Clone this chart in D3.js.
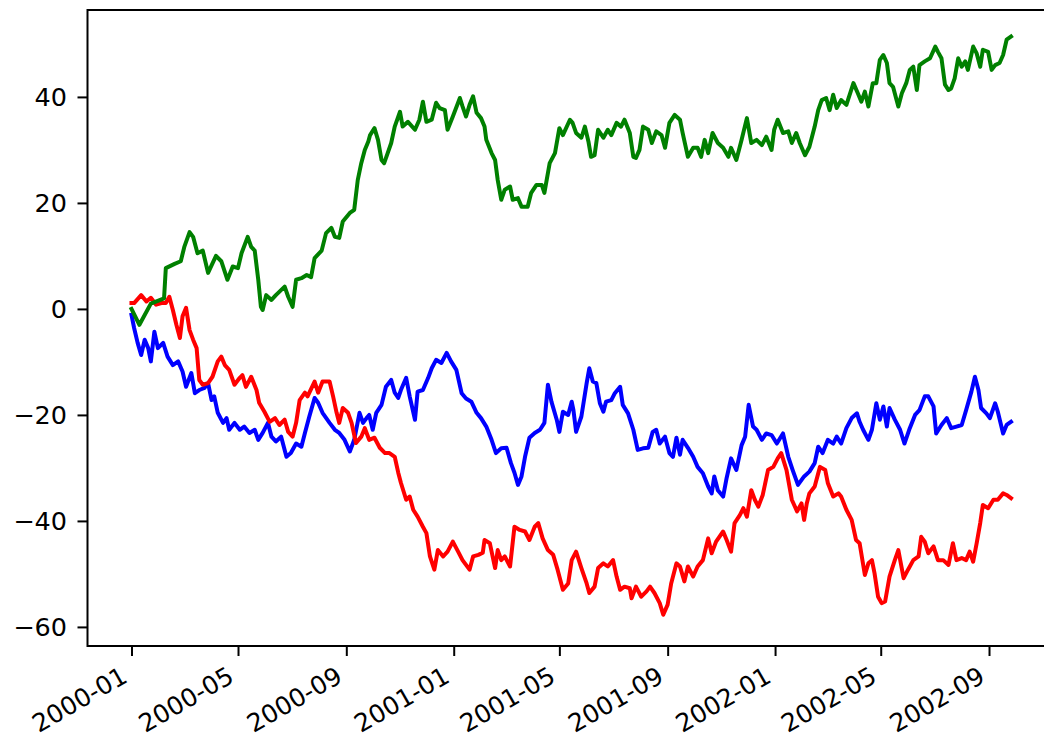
<!DOCTYPE html>
<html>
<head>
<meta charset="utf-8">
<script src="https://cdn.jsdelivr.net/npm/d3@7"></script>
<style>
  html, body { margin: 0; padding: 0; background: #fff; }
  svg { display: block; }
  text { font-family: "DejaVu Sans", sans-serif; fill: #000; }
</style>
</head>
<body>
<svg id="chart" width="1044" height="742"></svg>
<script>
// Three cumulative random-walk series, sampled as [day offset from 2000-01-01, value]
const blueSeries = [
  [0,-1.1],[3,-3.6],[7,-6.4],[11,-8.7],[15,-5.8],[19,-7.4],[22,-9.9],[26,-4.3],[30,-7.4],[36,-6.4],
  [41,-9],[47,-10.6],[53,-9.9],[58,-11.8],[62,-14.7],[68,-12.1],[72,-15.9],[77,-15.3],[83,-14.9],[87,-14],
  [91,-17.2],[94,-16.5],[98,-19.6],[104,-21.5],[108,-20.6],[111,-22.8],[117,-21.5],[123,-22.8],[128,-22.2],[134,-23.4],
  [140,-22.8],[144,-24.7],[149,-23.4],[155,-21.5],[159,-24.1],[164,-25],[170,-24.1],[176,-27.9],[181,-27.2],[187,-25.4],
  [193,-26],[197,-23.4],[202,-20.3],[208,-16.8],[212,-17.7],[217,-19.6],[225,-21.5],[231,-22.8],[236,-23.4],[242,-24.7],
  [248,-26.9],[253,-24.7],[259,-19.6],[263,-21.5],[267,-20.6],[270,-20],[274,-22.8],[278,-19.6],[284,-18.1],[289,-14.7],
  [295,-13.4],[299,-15.8],[303,-16.8],[306,-15.3],[312,-13],[316,-16.5],[322,-20.9],[325,-15.6],[331,-15.3],[337,-13],
  [341,-11.2],[346,-9.6],[352,-10.2],[358,-8.3],[363,-9.9],[369,-11.5],[375,-15.9],[380,-16.9],[386,-17.5],[392,-19.6],
  [397,-20.6],[403,-22.2],[409,-24.7],[414,-27.2],[420,-26.3],[426,-26.2],[431,-29.1],[435,-30.9],[439,-33.2],[443,-31.6],
  [447,-27.9],[452,-24.3],[458,-23.4],[464,-22.8],[469,-21.5],[473,-14.3],[477,-17.5],[483,-20.9],[486,-23.2],[490,-19.4],
  [496,-20],[500,-17.5],[502,-19.1],[505,-23.2],[511,-20.3],[517,-14],[520,-11.2],[524,-13.7],[528,-14],[532,-17.8],
  [536,-19.4],[539,-17.5],[545,-17.2],[549,-15.9],[555,-14.7],[558,-18.1],[564,-19.7],[570,-22.8],[575,-26.6],[581,-26.3],
  [587,-26.2],[592,-23.2],[596,-22.8],[600,-25.4],[606,-24.1],[611,-27.2],[615,-27.9],[619,-24.3],[623,-27.5],[626,-24.7],
  [632,-26.2],[638,-27.9],[643,-29.8],[649,-31],[655,-33.5],[659,-34.8],[662,-31.6],[666,-34.2],[672,-35.4],[676,-31.9],
  [681,-28.2],[687,-30.4],[693,-25.7],[697,-24.1],[701,-18.1],[706,-22.2],[710,-22.8],[716,-24.7],[721,-23.5],[727,-23.8],
  [733,-25.4],[740,-23.5],[746,-27.9],[751,-30.4],[757,-33.2],[764,-31.6],[770,-30.7],[776,-29.1],[780,-26],[785,-27.2],
  [791,-24.7],[797,-25.4],[801,-24.1],[806,-25.4],[812,-22.5],[818,-20.6],[824,-19.7],[827,-21.3],[831,-22.8],[837,-24.7],
  [841,-22.8],[846,-17.8],[850,-20.9],[854,-18.4],[858,-22.2],[861,-18.7],[867,-20.9],[873,-22.8],[878,-25.4],[884,-22.5],
  [890,-20],[895,-19.1],[901,-16.5],[905,-16.5],[911,-18.4],[914,-23.5],[920,-21.9],[926,-20.6],[931,-22.5],[937,-22.2],
  [943,-21.9],[948,-19.1],[954,-15.6],[958,-12.8],[962,-15.3],[965,-18.7],[971,-19.7],[975,-20.6],[981,-17.8],[984,-19.4],
  [990,-23.5],[994,-21.9],[999,-21.3]
];

const redSeries = [
  [0,1.1],[3,1.1],[11,2.6],[17,1.4],[22,2.1],[28,0.8],[34,1.1],[39,1.1],[43,2.3],[47,-0.2],
  [51,-3],[55,-5.5],[58,-1.4],[62,0.2],[66,-4],[70,-5.8],[74,-7.4],[77,-13.4],[81,-14.3],[87,-14],
  [92,-12.8],[98,-9.9],[102,-9],[106,-10.6],[111,-11.5],[117,-14.3],[123,-13],[126,-12.5],[130,-14.7],[136,-12.8],
  [142,-15.3],[145,-17.7],[151,-19.4],[157,-21.3],[163,-20.6],[168,-21.9],[174,-20.9],[178,-23.2],[183,-24.1],[187,-21.5],
  [191,-17.2],[197,-15.8],[200,-16.5],[208,-13.7],[212,-15.8],[217,-13.7],[225,-13.7],[229,-16.5],[233,-19.6],[236,-21.5],
  [240,-18.7],[246,-19.6],[250,-21.5],[255,-25.3],[261,-24.1],[265,-22.5],[270,-24.7],[276,-24.3],[282,-26.2],[288,-27.2],
  [293,-27.2],[299,-27.9],[303,-30.9],[306,-32.8],[312,-36],[316,-35.4],[320,-37.9],[325,-39.2],[331,-41.1],[335,-42.3],
  [339,-46.7],[344,-49.2],[348,-45.5],[354,-46.7],[359,-45.8],[365,-43.9],[371,-45.8],[376,-47.4],[384,-49.2],[388,-46.7],
  [394,-46.4],[399,-46],[401,-43.6],[407,-44.2],[413,-48.9],[416,-45.5],[420,-47.4],[424,-46.7],[430,-48.6],[435,-41.1],
  [441,-41.7],[447,-42],[452,-43.6],[458,-41.1],[462,-40.4],[467,-43.3],[473,-45.5],[479,-46.4],[484,-49.2],[490,-53],
  [496,-51.8],[500,-47.4],[505,-45.8],[511,-48.9],[517,-51.8],[520,-53.6],[526,-52.4],[530,-48.9],[536,-48],[541,-48.6],
  [547,-47.4],[551,-50.5],[555,-53],[560,-52.4],[566,-52.7],[568,-54.6],[573,-52.4],[579,-54.3],[585,-53.3],[589,-52.4],
  [594,-53.6],[600,-55.5],[604,-57.7],[609,-55.8],[613,-51.8],[619,-48],[623,-48.6],[628,-51.4],[632,-48.6],[638,-50.5],
  [643,-48.6],[649,-47.4],[655,-43.3],[659,-46.1],[664,-43.9],[672,-42],[676,-43.6],[681,-45.8],[685,-40.4],[691,-38.9],
  [695,-37.6],[699,-39.2],[704,-34.2],[708,-36],[712,-37.3],[717,-35.1],[723,-30.4],[729,-29.8],[734,-28.2],[738,-27.2],
  [744,-30.4],[750,-36],[756,-38.2],[761,-36.7],[764,-39.8],[767,-36.7],[770,-34.8],[776,-33.5],[782,-29.8],[788,-30.4],
  [791,-32.9],[797,-35.4],[803,-34.8],[806,-35.4],[812,-37.9],[818,-39.8],[823,-43.6],[827,-44.2],[833,-50.2],[837,-48],
  [841,-47.4],[844,-49.9],[848,-54.3],[852,-55.5],[856,-55.2],[861,-50.5],[867,-47.4],[871,-45.5],[877,-50.8],[882,-49.2],
  [888,-47.4],[894,-46.7],[897,-43],[901,-43.9],[905,-46.1],[911,-44.8],[916,-47.4],[922,-47.4],[928,-48.3],[933,-44.2],
  [937,-47.4],[943,-47],[948,-47.4],[952,-45.8],[956,-47.7],[960,-44.2],[964,-40.4],[967,-37],[973,-37.6],[979,-36],
  [984,-36],[990,-34.8],[994,-35.1],[999,-35.7]
];

const greenSeries = [
  [0,0],[9,-3],[22,1],[37,2],[39,7.7],[49,8.5],[56,9],[60,11.7],[66,14.5],[70,13.6],
  [75,10.5],[81,11],[87,6.8],[96,10],[102,9],[109,5.5],[115,8],[121,7.7],[125,10.5],[132,13.6],
  [136,11.7],[140,11],[144,5.5],[147,0.4],[149,-0.2],[153,2.6],[159,1.7],[164,2.6],[174,4.2],[178,2.3],
  [183,0.4],[187,5.5],[193,5.8],[199,6.4],[204,6],[208,9.6],[216,11],[221,14.3],[227,15.3],[231,13.6],
  [236,13.4],[240,16.5],[248,18.1],[253,18.7],[257,24.3],[261,27.5],[265,30],[269,31.6],[271,32.8],[276,34.1],
  [280,31.9],[284,28.1],[287,27.5],[291,29.4],[295,31.3],[299,34.4],[305,37.2],[308,34.4],[314,35.3],[322,33.8],
  [327,35.7],[331,39.1],[335,35.3],[341,35.7],[346,38.9],[350,37.9],[356,37.5],[359,33.8],[365,36.3],[373,39.8],
  [376,38.2],[380,36.3],[384,38.5],[388,40.1],[392,37],[397,36],[401,34.4],[403,31.9],[409,29.4],[413,28.1],
  [416,24.3],[420,20.6],[424,22.5],[430,23.1],[433,20.6],[439,20.9],[443,19.3],[450,19.3],[454,21.9],[460,23.4],
  [466,23.4],[469,21.9],[475,27.5],[481,29.4],[486,34.1],[490,32.8],[498,35.7],[501,35.1],[505,33.2],[511,32.3],
  [515,34.4],[519,31.6],[522,28.7],[526,29],[530,33.8],[536,32.3],[541,33.8],[545,32.8],[551,35.1],[556,34.4],
  [560,35.7],[566,33.2],[570,28.7],[573,28.5],[577,30],[581,34.4],[587,33.8],[591,31.3],[596,33.5],[602,32.8],
  [606,30.4],[611,35.1],[617,36.6],[623,35.7],[626,33.2],[632,28.7],[638,30.4],[643,30.4],[647,28.7],[651,31.9],
  [655,29.4],[660,33.2],[666,31.3],[672,30.4],[678,28.7],[681,30.4],[687,28.1],[693,31.9],[699,36],[704,31.3],
  [710,31.9],[716,30.9],[721,32.5],[727,30],[730,33.8],[734,35.7],[740,33.2],[746,33.5],[750,31.3],[755,33.2],
  [759,31.3],[765,29],[770,30.6],[776,34.4],[780,37.5],[784,39.4],[789,39.8],[793,37.5],[797,40.4],[801,37.9],
  [806,39.4],[812,38.5],[820,42.6],[825,40.7],[829,39.1],[833,41],[837,38.2],[842,42.6],[846,42.6],[850,47],
  [854,47.9],[858,46.4],[861,42.6],[865,41.9],[869,39.4],[871,38.2],[875,40.7],[880,42.6],[884,45.1],[888,45.7],
  [892,41.3],[895,46],[901,46.7],[907,47.3],[913,49.5],[916,48.5],[920,47.3],[924,42.3],[928,41.3],[931,41.6],
  [935,43.5],[939,47.3],[943,45.7],[947,46.7],[950,45.1],[956,49.5],[960,48.2],[964,45.7],[967,48.9],[973,48.5],
  [977,45.1],[981,46],[986,46.4],[990,47.9],[994,50.8],[999,51.4]
];

const seriesColors = ["#0000ff", "#ff0000", "#008000"];
const xTickDates = ["2000-01-01","2000-05-01","2000-09-01","2001-01-01","2001-05-01",
                    "2001-09-01","2002-01-01","2002-05-01","2002-09-01"];
const yTickValues = [-60, -40, -20, 0, 20, 40];

// ---- layout ----
const plot = { left: 87.5, top: 10, right: 1055, bottom: 646 };
const yFontPx = 25.5, xFontPx = 25;
const tickLen = 10, tickPad = 10.5, spineW = 2, lineW = 4;

const startDate = new Date(2000, 0, 1);
const dayToDate = d => new Date(startDate.getTime() + d * 86400000);
const parseDay = d3.timeParse("%Y-%m-%d");

const x = d3.scaleTime()
  .domain([dayToDate(-49.95), dayToDate(1048.95)])
  .range([plot.left, plot.right]);
const y = d3.scaleLinear().domain([-63.6, 56.4]).range([plot.bottom, plot.top]);

const svg = d3.select("#chart");
svg.append("rect").attr("width", 1044).attr("height", 742).attr("fill", "#fff");

// data lines
const line = d3.line()
  .x(d => x(dayToDate(d[0])))
  .y(d => y(d[1]));

[blueSeries, redSeries, greenSeries].forEach((s, i) => {
  svg.append("path")
    .datum(s)
    .attr("d", line)
    .attr("fill", "none")
    .attr("stroke", seriesColors[i])
    .attr("stroke-width", lineW)
    .attr("stroke-linejoin", "round")
    .attr("stroke-linecap", "square");
});

// spines
svg.append("rect")
  .attr("x", plot.left).attr("y", plot.top)
  .attr("width", plot.right - plot.left).attr("height", plot.bottom - plot.top)
  .attr("fill", "none").attr("stroke", "#000").attr("stroke-width", spineW);

// y axis
const yAxis = d3.axisLeft(y)
  .tickValues(yTickValues)
  .tickSize(tickLen)
  .tickPadding(tickPad)
  .tickFormat(v => (v < 0 ? "\u2212" + Math.abs(v) : String(v)));
const yg = svg.append("g").attr("transform", `translate(${plot.left},0)`).call(yAxis);
yg.select(".domain").remove();
yg.selectAll(".tick line").attr("stroke", "#000").attr("stroke-width", spineW);
yg.selectAll(".tick text")
  .attr("font-size", yFontPx)
  .attr("font-family", "DejaVu Sans")
  .attr("fill", "#000");

// x axis with date labels rotated 30 degrees, right end at the tick
const xAxis = d3.axisBottom(x)
  .tickValues(xTickDates.map(parseDay))
  .tickSize(tickLen)
  .tickFormat(d3.timeFormat("%Y-%m"));
const xg = svg.append("g").attr("transform", `translate(0,${plot.bottom})`).call(xAxis);
xg.select(".domain").remove();
xg.selectAll(".tick line").attr("stroke", "#000").attr("stroke-width", spineW);

const textH = xFontPx * 0.99;
const descent = xFontPx * 0.23;
const angle = 30;
xg.selectAll(".tick text")
  .attr("font-size", xFontPx)
  .attr("font-family", "DejaVu Sans")
  .attr("fill", "#000")
  .attr("text-anchor", "end")
  .attr("dy", null)
  .attr("y", -descent)
  .attr("x", 0)
  .attr("transform", `translate(0,${tickLen + tickPad - 2 + textH * Math.cos(angle * Math.PI / 180)}) rotate(${-angle})`);
</script>
</body>
</html>
